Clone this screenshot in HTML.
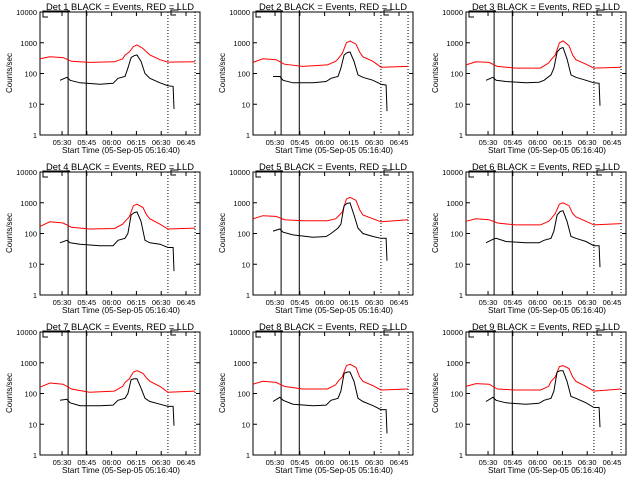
<!DOCTYPE html>
<html><head><meta charset="utf-8"><style>
html,body{margin:0;padding:0;background:#fff}
svg{display:block}
text{font-family:"Liberation Sans",sans-serif;fill:#000}
</style></head><body>
<svg id="chart" width="640" height="480" viewBox="0 0 640 480" xmlns="http://www.w3.org/2000/svg"></svg>
<script>
const detectors = ["1","2","3","4","5","6","7","8","9"];
const yTickValues = [1,10,100,1000,10000];
const yTickLabels = ["1","10","100","1000","10000"];
const xTickMinutes = [13.33,28.33,43.33,58.33,73.33,88.33];
const xTickLabels = ["05:30","05:45","06:00","06:15","06:30","06:45"];
const redTimes = [0,6,14,19,30,45,50,51.5,54,56.5,58.7,62.3,64.5,66.5,72.6,77.4,93.8];
const blackTimes = [12.1,16.3,18.2,24.2,36.3,44.2,47.2,51.4,53.2,55.1,57,58.7,61.1,63.5,66.5,72.6,77.4,80.5,81.1];
const red1 = [300,350,330,250,230,240,300,400,500,750,850,650,500,400,280,235,240];
const black1 = [60,75,60,50,45,48,70,80,150,330,380,400,250,100,70,50,40,38,7];
const red2 = [230,300,280,200,170,190,250,300,450,1000,1150,900,500,350,250,160,170];
const black2 = [80,80,60,50,50,55,70,80,150,400,480,500,250,90,75,60,45,42,6];
const red3 = [190,240,230,170,150,150,220,280,400,1000,1150,800,400,280,200,150,160];
const black3 = [60,75,60,55,50,52,60,90,150,500,650,700,300,90,75,60,50,48,9];
const red4 = [170,240,220,160,140,145,200,250,350,800,900,700,400,300,200,140,150];
const black4 = [50,60,50,45,40,40,60,70,100,400,480,500,250,60,50,45,35,35,6];
const red5 = [300,380,360,280,260,260,300,360,500,1300,1500,1200,600,400,300,240,280];
const black5 = [120,140,110,90,75,80,100,150,200,800,950,1000,400,150,100,80,70,70,13];
const red6 = [250,300,280,220,190,190,250,300,450,900,1000,800,450,350,250,190,210];
const black6 = [50,65,70,55,50,50,60,70,120,400,520,550,250,80,70,55,40,40,8];
const red7 = [160,220,200,140,110,120,170,230,300,500,550,450,320,250,170,110,120];
const black7 = [60,65,50,40,40,42,60,70,100,280,300,300,150,70,55,45,38,38,9];
const red8 = [200,250,230,170,140,140,190,250,350,800,900,700,350,250,180,130,140];
const black8 = [55,75,60,45,40,42,60,70,120,450,500,500,250,70,55,40,30,30,5];
const red9 = [170,210,200,140,130,130,170,250,350,750,800,650,350,250,170,120,140];
const black9 = [55,75,60,50,45,48,60,70,120,500,550,550,250,80,70,50,35,35,8];
const redSeries = [red1,red2,red3,red4,red5,red6,red7,red8,red9];
const blackSeries = [black1,black2,black3,black4,black5,black6,black7,black8,black9];
const solidLines = [17,28];
const dottedLines = [77.4,93.8];

const NS = "http://www.w3.org/2000/svg";
const svg = document.getElementById("chart");
function mk(tag, attrs, parent){
  const e = document.createElementNS(NS, tag);
  for (const k in attrs) e.setAttribute(k, attrs[k]);
  parent.appendChild(e);
  return e;
}
const L=40, R=200, T=12, B=135, TMAX=96.8;
function xs(t){ return L + t*(R-L)/TMAX; }
function ys(v){ return B - Math.log10(v)*(B-T)/4; }

detectors.forEach((d, i) => {
  const ox = (i%3)*213, oy = Math.floor(i/3)*160;
  const g = mk("g", {transform:`translate(${ox},${oy})`}, svg);
  
  
  const frame = mk("rect", {x:L, y:T, width:R-L, height:B-T, fill:"none", stroke:"#000", "stroke-width":1}, g);
  
  
  const title = mk("text", {x:120, y:10, "font-size":"9.5", "text-anchor":"middle", textLength:"148", lengthAdjust:"spacingAndGlyphs"}, g);
  title.textContent = "Det " + d + "  BLACK = Events, RED = LLD";
  
  
  const yl = mk("text", {x:0, y:0, "font-size":"8", "text-anchor":"middle", transform:"translate(12,73) rotate(-90)"}, g);
  yl.textContent = "Counts/sec";
  
  
  const xl = mk("text", {x:121, y:153, "font-size":"8.5", "text-anchor":"middle", textLength:"118", lengthAdjust:"spacingAndGlyphs"}, g);
  xl.textContent = "Start Time (05-Sep-05 05:16:40)";
  
  
  yTickValues.forEach((v, k) => {
    const y = ys(v);
    mk("line", {x1:L, x2:L+4, y1:y, y2:y, stroke:"#000"}, g);
    mk("line", {x1:R-4, x2:R, y1:y, y2:y, stroke:"#000"}, g);
    const t = mk("text", {x:37, y:y+3, "font-size":"7.5", "text-anchor":"end"}, g);
    t.textContent = yTickLabels[k];
    
    
  });
  xTickMinutes.forEach((m, k) => {
    const x = xs(m);
    mk("line", {x1:x, x2:x, y1:B, y2:B-4, stroke:"#000"}, g);
    mk("line", {x1:x, x2:x, y1:T, y2:T+4, stroke:"#000"}, g);
    const t = mk("text", {x:x, y:145, "font-size":"7.5", "text-anchor":"middle"}, g);
    t.textContent = xTickLabels[k];
    
    
  });
  solidLines.forEach(m => {
    const ln = mk("line", {x1:xs(m), x2:xs(m), y1:10, y2:B, stroke:"#000", "stroke-width":1}, g);
    
    
  });
  dottedLines.forEach(m => {
    const ln = mk("line", {x1:xs(m), x2:xs(m), y1:T, y2:B, stroke:"#000", "stroke-width":1, "stroke-dasharray":"1,2"}, g);
    
    
  });
  mk("path", {d:"M48,17 H43 V11 H70", fill:"none", stroke:"#000"}, g);
  mk("path", {d:"M176,15 H171 V10 H178 V3", fill:"none", stroke:"#000"}, g);
  const red = redSeries[i], blk = blackSeries[i];
  const rp = mk("polyline", {points: redTimes.map((t,k)=>xs(t).toFixed(1)+","+ys(red[k]).toFixed(1)).join(" "), fill:"none", stroke:"#ff0000", "stroke-width":1}, g);
  
  
  const bp = mk("polyline", {points: blackTimes.map((t,k)=>xs(t).toFixed(1)+","+ys(blk[k]).toFixed(1)).join(" "), fill:"none", stroke:"#000", "stroke-width":1}, g);
  
  
});
</script>
</body></html>
